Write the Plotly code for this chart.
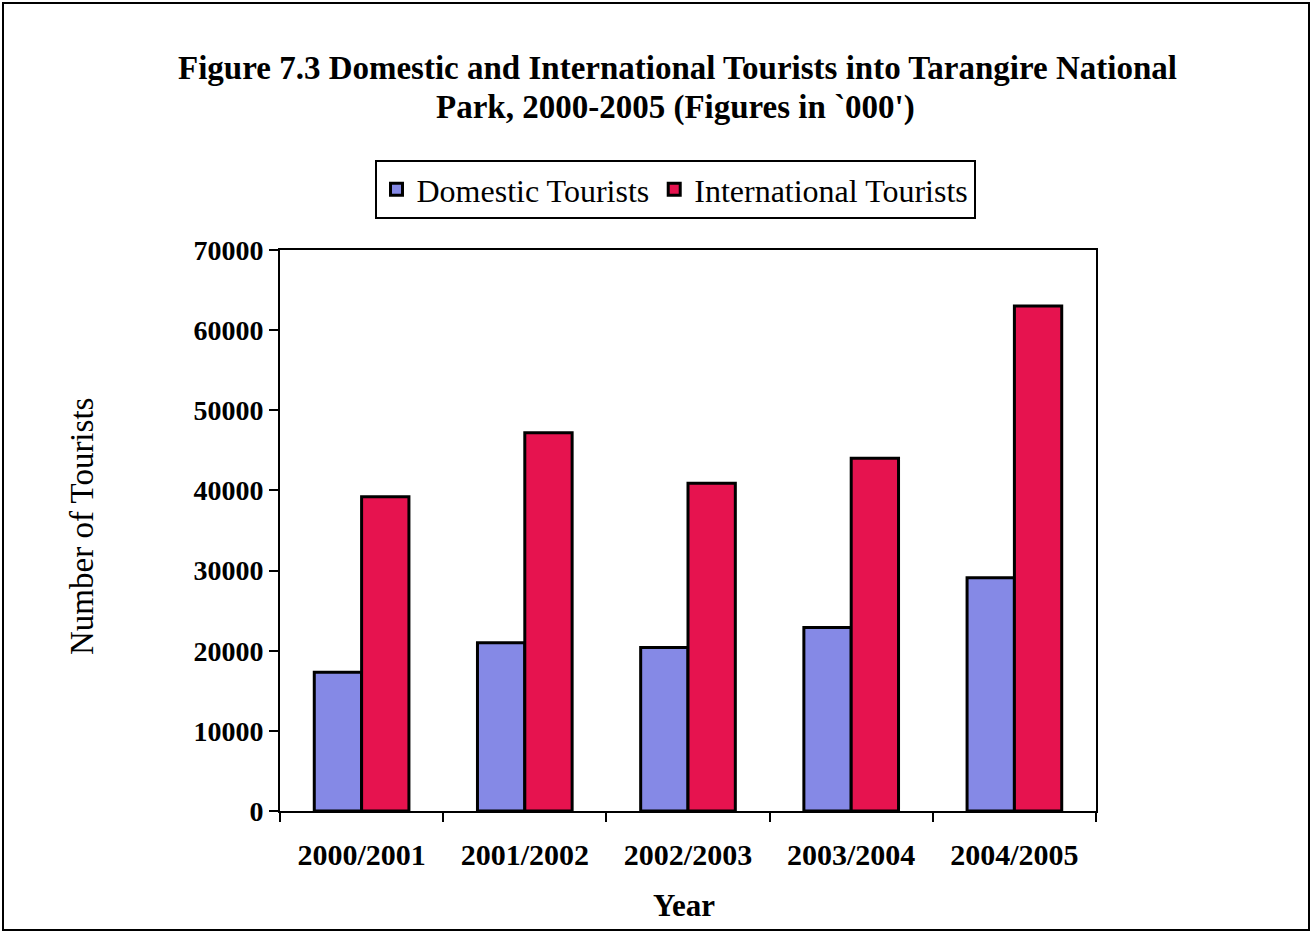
import plotly.graph_objects as go

# Tourist arrivals into Tarangire National Park by season
years = ["2000/2001", "2001/2002", "2002/2003", "2003/2004", "2004/2005"]
domestic = [17300, 21000, 20400, 22900, 29100]
international = [39200, 47200, 40900, 44000, 63000]
y_ticks = [0, 10000, 20000, 30000, 40000, 50000, 60000, 70000]

SERIF = "Liberation Serif, Times New Roman, serif"

W, H = 1312, 933
ML, MR, MT, MB = 280, 216, 250, 122
PW, PH = W - ML - MR, H - MT - MB

fig = go.Figure()
fig.add_trace(go.Bar(
    name="Domestic Tourists", x=years, y=domestic,
    marker=dict(color="#8589e6", line=dict(color="black", width=3)),
))
fig.add_trace(go.Bar(
    name="International Tourists", x=years, y=international,
    marker=dict(color="#e6134f", line=dict(color="black", width=3)),
))

def px_x(p):
    return (p - ML) / PW

def px_y(p):
    return (H - MB - p) / PH

fig.update_layout(
    width=W, height=H,
    margin=dict(l=ML, r=MR, t=MT, b=MB),
    paper_bgcolor="white", plot_bgcolor="white",
    barmode="group", bargap=0.42, bargroupgap=0.0,
    showlegend=True,
    legend=dict(
        orientation="h", x=px_x(675), y=px_y(160), xanchor="center", yanchor="top",
        bordercolor="black", borderwidth=2, bgcolor="white",
        font=dict(family=SERIF, size=32, color="black"),
        itemwidth=30, tracegroupgap=0,
    ),
    xaxis=dict(
        type="category", showline=True, linecolor="black", linewidth=2, mirror=True,
        ticks="outside", ticklen=9, tickwidth=2, tickcolor="black", tickson="boundaries",
        ticklabelstandoff=16,
        tickfont=dict(family=SERIF, size=30, color="black", weight="bold"),
        showgrid=False,
    ),
    yaxis=dict(
        range=[0, 70000], tickvals=y_ticks, ticktext=[str(v) for v in y_ticks],
        showline=True, linecolor="black", linewidth=2, mirror=True,
        ticks="outside", ticklen=9, tickwidth=2, tickcolor="black",
        tickfont=dict(family=SERIF, size=28, color="black", weight="bold"),
        showgrid=False, zeroline=False,
    ),
    annotations=[
        dict(text="<b>Figure 7.3 Domestic and International Tourists into Tarangire National</b>",
             xref="paper", yref="paper", x=px_x(677), y=px_y(68),
             xanchor="center", yanchor="middle", showarrow=False,
             font=dict(family=SERIF, size=33, color="black")),
        dict(text="<b>Park, 2000-2005 (Figures in `000')</b>",
             xref="paper", yref="paper", x=px_x(675), y=px_y(108),
             xanchor="center", yanchor="middle", showarrow=False,
             font=dict(family=SERIF, size=33, color="black")),
        dict(text="Number of Tourists", textangle=-90,
             xref="paper", yref="paper", x=px_x(82), y=px_y(527),
             xanchor="center", yanchor="middle", showarrow=False,
             font=dict(family=SERIF, size=33, color="black")),
        dict(text="<b>Year</b>",
             xref="paper", yref="paper", x=px_x(684), y=px_y(905),
             xanchor="center", yanchor="middle", showarrow=False,
             font=dict(family=SERIF, size=31, color="black")),
    ],
    shapes=[
        dict(type="rect", xref="paper", yref="paper",
             x0=px_x(3), x1=px_x(1309), y0=px_y(930), y1=px_y(3),
             line=dict(color="black", width=2), fillcolor="rgba(0,0,0,0)", layer="below"),
    ],
)

fig.write_html("out.html")
